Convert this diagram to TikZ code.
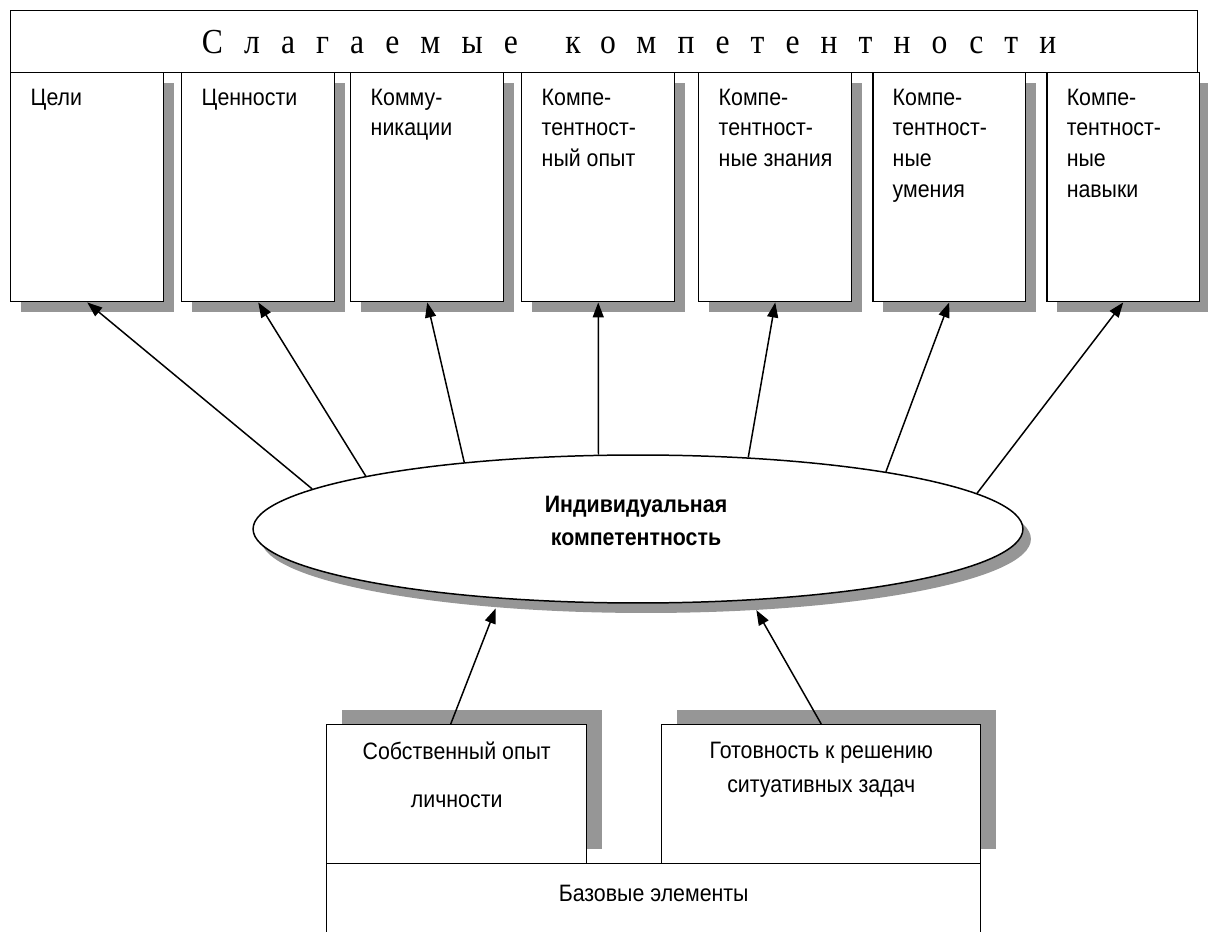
\documentclass[tikz,border=0pt]{standalone}
\usepackage{fontspec}
\setmainfont{Liberation Sans}[FakeStretch=0.9]
\newfontfamily\hdrfont{Liberation Serif}[FakeStretch=0.9,LetterSpace=60]
\usetikzlibrary{positioning, shapes.geometric, shadows, arrows.meta}
\definecolor{shade}{HTML}{969696}

\begin{document}
\begin{tikzpicture}[x=0.02cm, y=-0.02cm, line width=0.85pt,
	comp/.style={draw, fill=white, inner sep=0, anchor=north west,
		minimum width=3.06cm, minimum height=4.58cm,
		drop shadow={shadow xshift=0.2cm, shadow yshift=-0.2cm, fill=shade, opacity=1}},
	lower/.style={draw, fill=white, inner sep=0, anchor=north west, minimum height=2.78cm,
		drop shadow={shadow xshift=0.3cm, shadow yshift=0.3cm, fill=shade, opacity=1}},
	txt/.style={align=left, inner sep=0, font=\fontsize{13.5}{17.6}\selectfont},
	arr/.style={-{Triangle[length=0.3cm, width=0.22cm]}}]
	\clip (0,0) rectangle (1208,932);
	% competences
	\node[comp] (c1) at (10,72) {};
	\node[comp] (c2) at (181,72) {};
	\node[comp] (c3) at (350,72) {};
	\node[comp] (c4) at (521,72) {};
	\node[comp] (c5) at (698,72) {};
	\node[comp] (c6) at (872,72) {};
	\node[comp] (c7) at (1046,72) {};
	\node[txt, below right=0.32cm and 0.4cm of c1.north west] (t1) {Цели};
	\node[txt, below right=0.32cm and 0.4cm of c2.north west] (t2) {Ценности};
	\node[txt, below right=0.32cm and 0.4cm of c3.north west] (t3) {Комму-\\никации};
	\node[txt, below right=0.32cm and 0.4cm of c4.north west] (t4) {Компе-\\тентност-\\ный опыт};
	\node[txt, below right=0.32cm and 0.4cm of c5.north west] (t5) {Компе-\\тентност-\\ные знания};
	\node[txt, below right=0.32cm and 0.4cm of c6.north west] (t6) {Компе-\\тентност-\\ные\\умения};
	\node[txt, below right=0.32cm and 0.4cm of c7.north west] (t7) {Компе-\\тентност-\\ные\\навыки};
	\node[draw, fill=white, anchor=north west, minimum width=23.74cm, minimum height=1.24cm] (hdr) at (10,10) {};
	\node[font=\hdrfont\fontsize{20}{24}\selectfont, inner sep=0] (title) at ([xshift=0.5cm]hdr.center)
		{Слагаемые\hspace{27pt}компетентности};
	% individual competence
	\node[ellipse, draw, fill=white, inner sep=0, minimum width=15.4cm, minimum height=2.96cm,
		drop shadow={shadow xshift=0.16cm, shadow yshift=-0.2cm, fill=shade, opacity=1}]
		(ind) at (638,529) {};
	\node[txt, align=center, font=\bfseries\fontsize{13.5}{18.8}\selectfont] (it) at (636,521)
		{Индивидуальная\\компетентность};
	% base elements
	\node[lower, minimum width=5.2cm] (bl) at (326,724) {};
	\node[lower, minimum width=6.38cm] (br) at (661,724) {};
	\node[draw, fill=white, inner sep=0, anchor=north west, minimum width=13.08cm, minimum height=2cm] (elem) at (326,863) {};
	\node[txt, align=center, below=0.35cm of bl.north] (tl) {Собственный опыт\\[9.5pt]личности};
	\node[txt, align=center, below=0.35cm of br.north] (tr) {Готовность к решению\\[1.7pt]ситуативных задач};
	\node[txt, below=0.42cm of elem.north] (te) {Базовые элементы};
	\path
	(ind.173.2) edge[arr] (c1.south)
	(ind.169.1) edge[arr] (c2.south)
	(ind.159.7) edge[arr] (c3.south)
	(ind.118.7) edge[arr] (c4.south)
	(ind.33.7) edge[arr] (c5.south)
	(ind.13.5) edge[arr] (c6.south)
	(ind.6.8) edge[arr] (c7.south)
	([xshift=-0.12cm]bl.north) edge[arr] ([yshift=-0.2cm]ind.206.9)
	(br.north) edge[arr] ([yshift=-0.2cm]ind.329.6)
	;
\end{tikzpicture}
\end{document}
